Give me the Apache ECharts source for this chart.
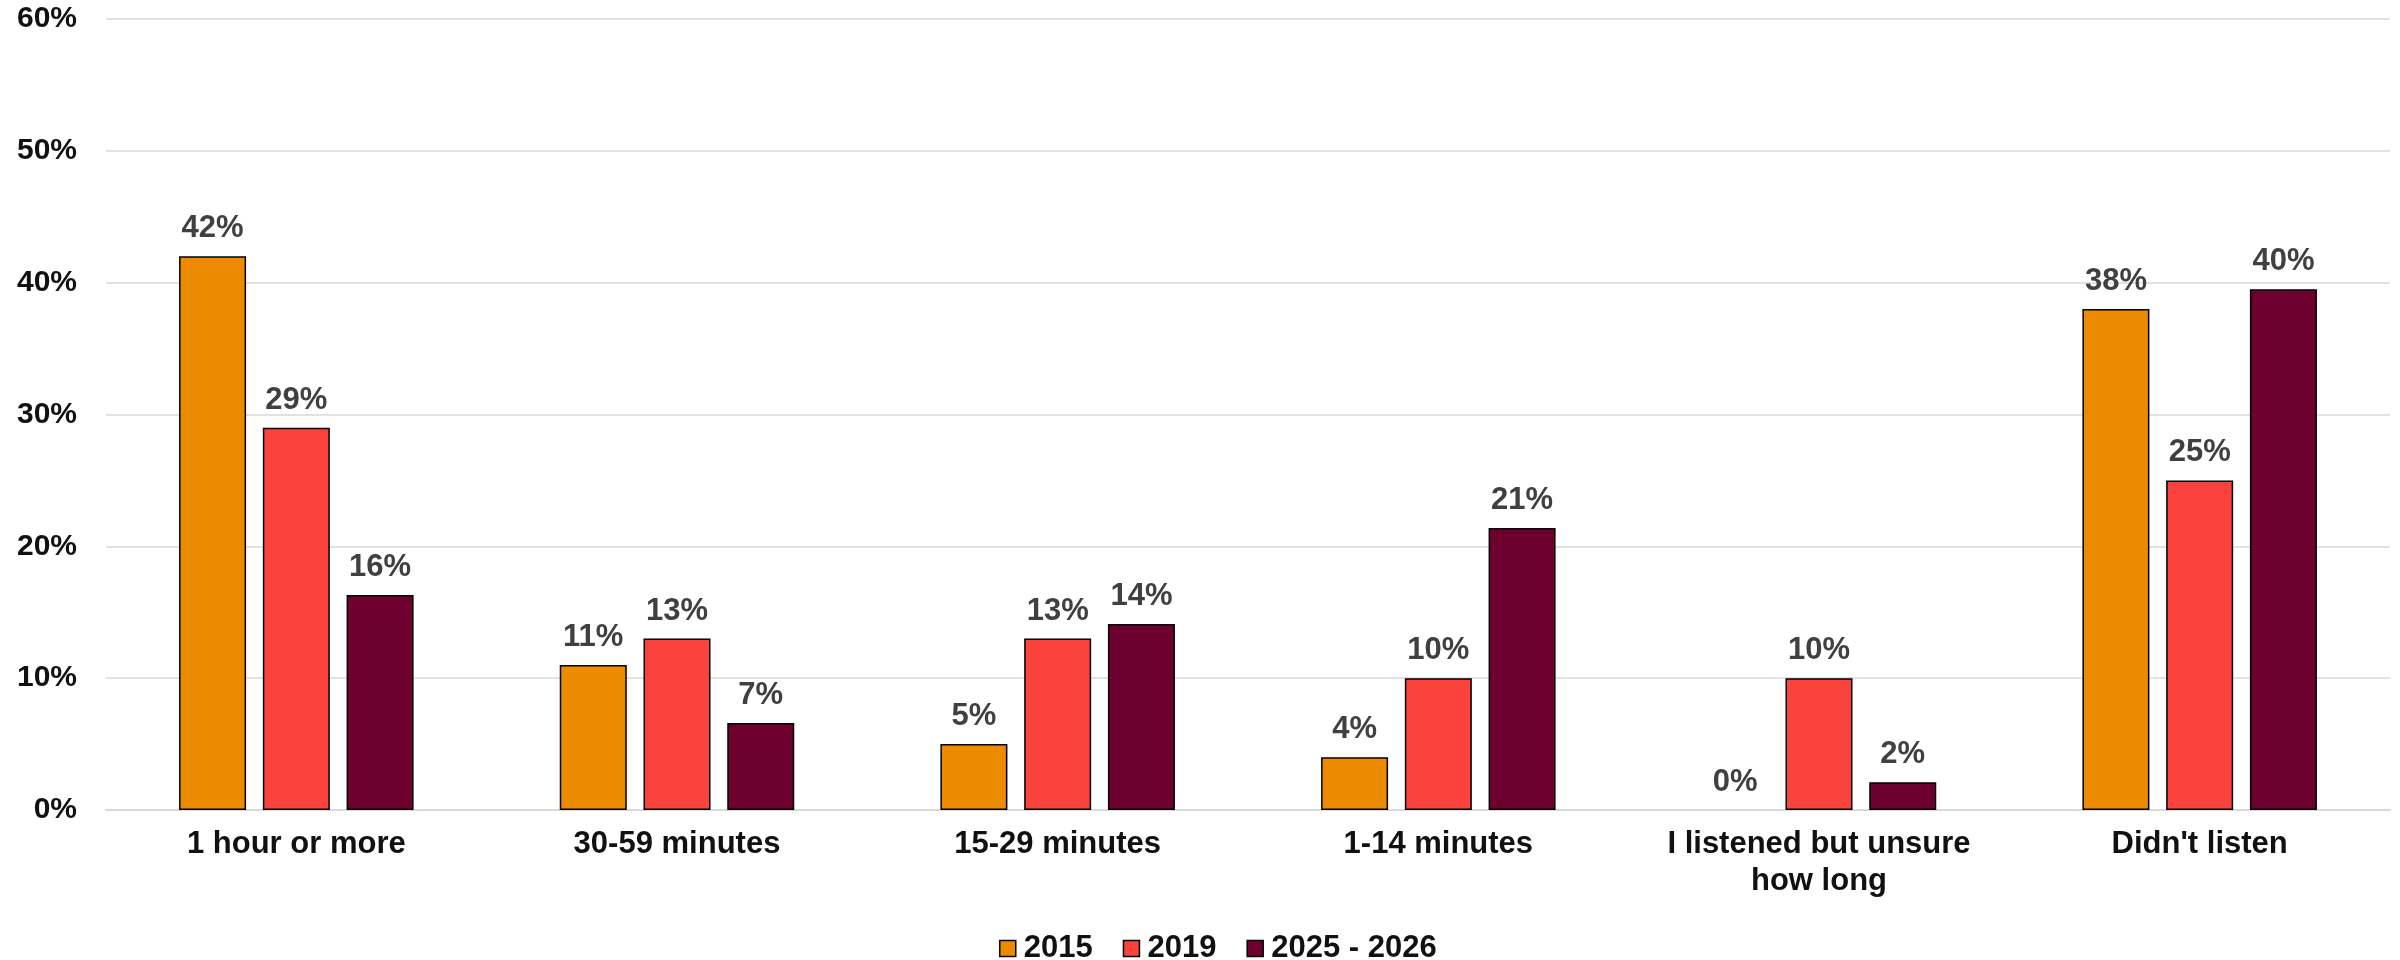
<!DOCTYPE html>
<html>
<head>
<meta charset="utf-8">
<script src="https://cdn.jsdelivr.net/npm/echarts@6/dist/echarts.min.js"></script>
<style>
html,body{margin:0;padding:0;background:#fff;}
#chart{width:2400px;height:960px;}
</style>
</head>
<body>
<div id="chart"></div>
<script>
const categories = ['1 hour or more', '30-59 minutes', '15-29 minutes', '1-14 minutes', 'I listened but unsure\nhow long', "Didn't listen"];
const seriesNames = ['2015', '2019', '2025 - 2026'];
const values2015 = [42, 11, 5, 4, 0, 38];
const values2019 = [29, 13, 13, 10, 10, 25];
const values2025 = [16.3, 6.6, 14.1, 21.4, 2.1, 39.5];
const colors = ['#EC8A00', '#F9433C', '#6E0030'];
const yTicks = [0, 10, 20, 30, 40, 50, 60];

const font = 'Liberation Sans, Arial, sans-serif';
const seriesData = [values2015, values2019, values2025];

const chart = echarts.init(document.getElementById('chart'), null, {renderer: 'canvas'});
chart.setOption({
  backgroundColor: '#fff',
  animation: false,
  grid: {left: 106, right: 10, top: 19, bottom: 150, containLabel: false},
  legend: {
    left: 994, top: 928,
    itemWidth: 16, itemHeight: 16, itemGap: 30,
    icon: 'rect',
    textStyle: {fontFamily: font, fontWeight: 'bold', fontSize: 31, color: '#111', padding: [0, 0, 0, 3]},
    itemStyle: {borderColor: '#000', borderWidth: 1.5},
    data: seriesNames
  },
  xAxis: {
    type: 'category',
    data: categories,
    axisLine: {show: true, lineStyle: {color: '#d9d9d9', width: 2}},
    axisTick: {show: false},
    axisLabel: {fontFamily: font, fontWeight: 'bold', fontSize: 31, color: '#111', margin: 16, lineHeight: 37, interval: 0}
  },
  yAxis: {
    type: 'value',
    min: yTicks[0], max: yTicks[yTicks.length - 1], interval: 10,
    axisLine: {show: false},
    axisTick: {show: false},
    splitLine: {lineStyle: {color: '#d9d9d9', width: 1.5}},
    axisLabel: {fontFamily: font, fontWeight: 'bold', fontSize: 30, color: '#111', margin: 29, formatter: v => v + '%'}
  },
  series: seriesNames.map((name, i) => ({
    name: name,
    type: 'bar',
    data: seriesData[i].map(v => v === 0 ? {value: v, itemStyle: {borderWidth: 0}} : v),
    barWidth: 67,
    barGap: '25%',
    itemStyle: {color: colors[i], borderColor: '#000', borderWidth: 1.5},
    label: {
      show: true, position: 'top', distance: 12,
      fontFamily: font, fontWeight: 'bold', fontSize: 31, color: '#404040',
      formatter: p => Math.round(p.value) + '%'
    }
  }))
});
</script>
</body>
</html>
